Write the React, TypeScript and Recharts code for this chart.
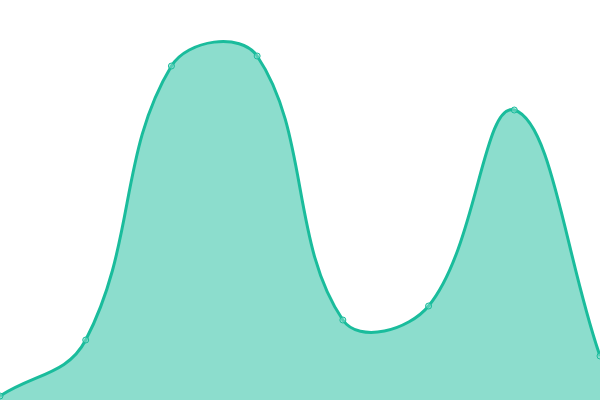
import { AreaChart, Area, XAxis, YAxis } from 'recharts';

const labels = ['A', 'B', 'C', 'D', 'E', 'F', 'G', 'H'];
const values = [4, 60, 334, 344, 80, 94, 290, 44];

const chartData = labels.map((name, i) => ({ name, value: values[i] }));

const TENSION = 0.4;

// spline like Chart.js (tension 0.4), plugged into recharts as a d3 curve factory
class SplineCurve {
  _context: any;
  _line = NaN;
  _xs: number[] = [];
  _ys: number[] = [];
  constructor(context: any) {
    this._context = context;
  }
  areaStart() {
    this._line = 0;
  }
  areaEnd() {
    this._line = NaN;
  }
  lineStart() {
    this._xs = [];
    this._ys = [];
  }
  point(x: number, y: number) {
    this._xs.push(+x);
    this._ys.push(+y);
  }
  lineEnd() {
    const xs = this._xs;
    const ys = this._ys;
    const n = xs.length;
    const ctx = this._context;
    if (n) {
      if (this._line) ctx.lineTo(xs[0], ys[0]);
      else ctx.moveTo(xs[0], ys[0]);
      if (n === 2) {
        ctx.lineTo(xs[1], ys[1]);
      } else if (n > 2) {
        const prevCp: number[][] = [];
        const nextCp: number[][] = [];
        for (let i = 0; i < n; i++) {
          const pi = i > 0 ? i - 1 : i;
          const ni = i < n - 1 ? i + 1 : i;
          const d01 = Math.hypot(xs[i] - xs[pi], ys[i] - ys[pi]);
          const d12 = Math.hypot(xs[ni] - xs[i], ys[ni] - ys[i]);
          let s01 = d01 / (d01 + d12);
          let s12 = d12 / (d01 + d12);
          if (isNaN(s01)) s01 = 0;
          if (isNaN(s12)) s12 = 0;
          const fa = TENSION * s01;
          const fb = TENSION * s12;
          const dx = xs[ni] - xs[pi];
          const dy = ys[ni] - ys[pi];
          prevCp.push([xs[i] - fa * dx, ys[i] - fa * dy]);
          nextCp.push([xs[i] + fb * dx, ys[i] + fb * dy]);
        }
        for (let i = 0; i < n - 1; i++) {
          ctx.bezierCurveTo(
            nextCp[i][0], nextCp[i][1],
            prevCp[i + 1][0], prevCp[i + 1][1],
            xs[i + 1], ys[i + 1]
          );
        }
      }
    }
    if (this._line || (this._line !== 0 && n === 1)) ctx.closePath();
    this._line = 1 - this._line;
  }
}

const splineCurve = (context: any) => new SplineCurve(context);

export default function App() {
  return (
    <div style={{ position: 'fixed', top: 0, left: 0, width: 600, height: 400, background: '#fff' }}>
      <AreaChart width={600} height={400} data={chartData} margin={{ top: 0, right: 0, bottom: 0, left: 0 }}>
        <XAxis dataKey="name" hide />
        <YAxis hide domain={[0, 400]} />
        <Area
          type={splineCurve as any}
          dataKey="value"
          stroke="#1abc9c"
          strokeWidth={3}
          fill="#1abc9c"
          fillOpacity={0.5}
          dot={{ r: 3, fill: '#8cddcd', stroke: '#1abc9c', strokeWidth: 1 }}
          activeDot={false}
          isAnimationActive={false}
        />
      </AreaChart>
    </div>
  );
}
